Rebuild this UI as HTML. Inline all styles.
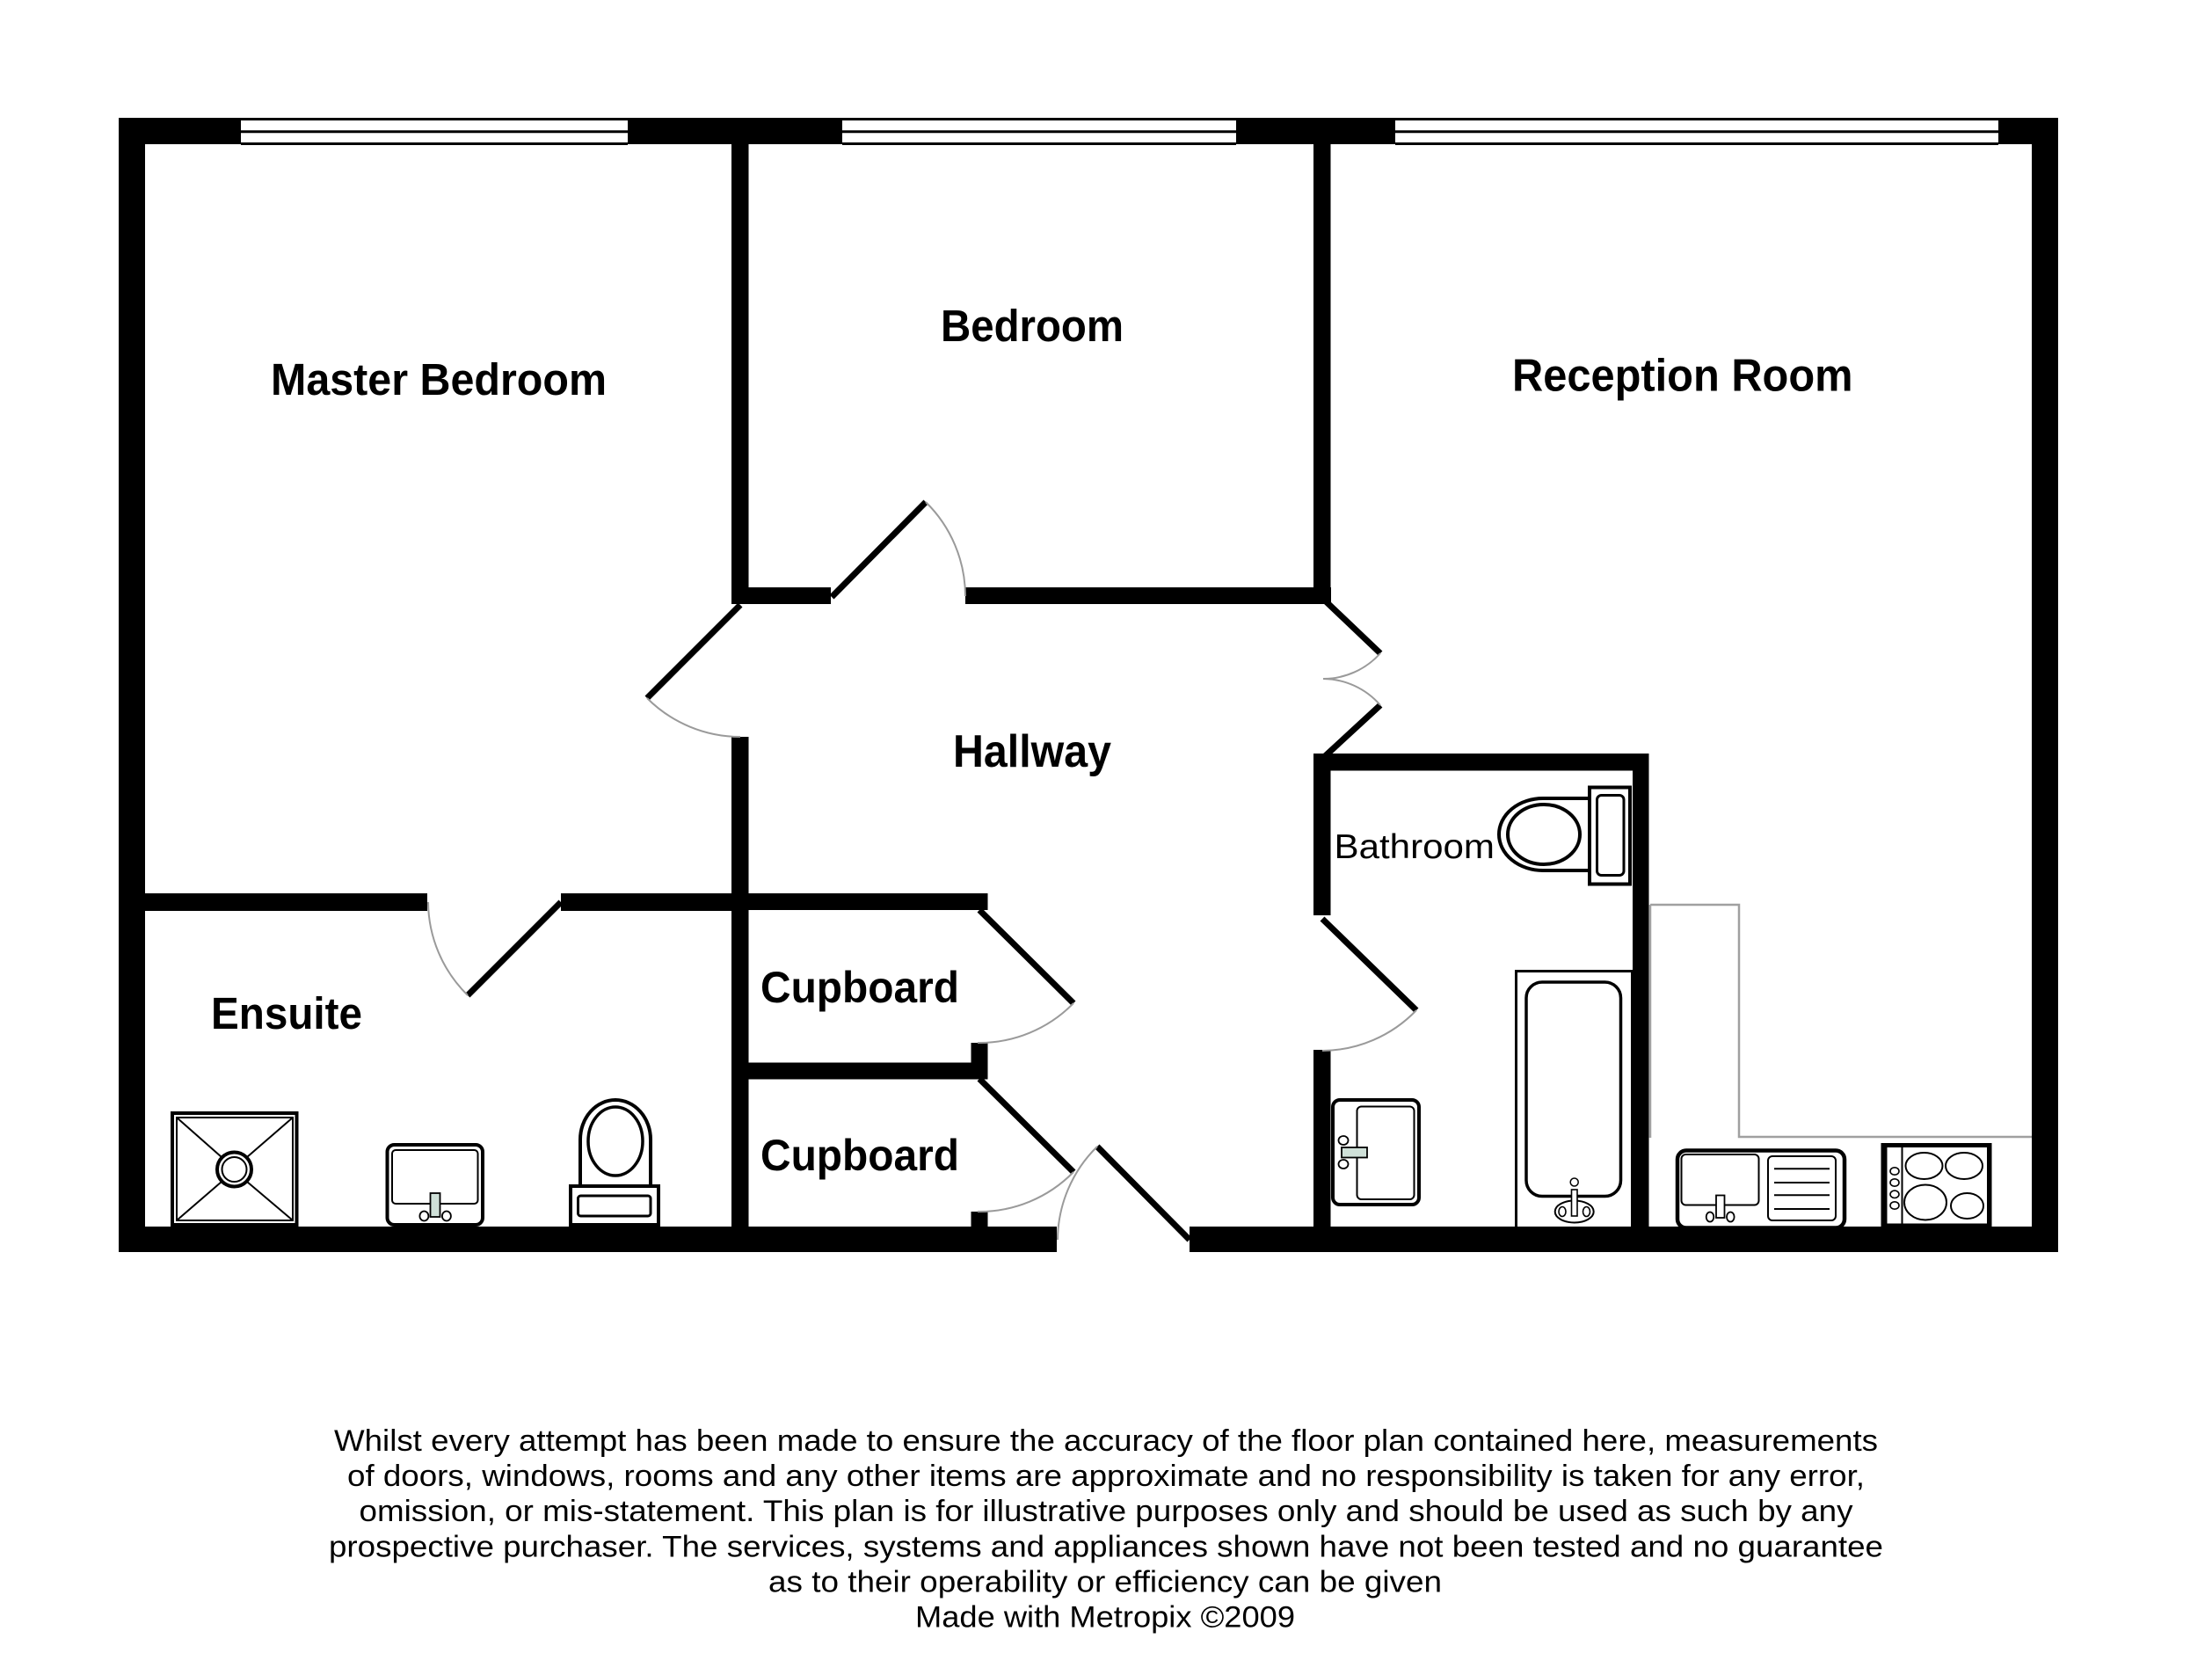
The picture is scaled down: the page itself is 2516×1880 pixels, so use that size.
<!DOCTYPE html>
<html>
<head>
<meta charset="utf-8">
<style>
html,body{margin:0;padding:0;background:#fff;}
svg{display:block;}
</style>
</head>
<body>
<svg width="2516" height="1880" viewBox="0 0 2516 1880" xmlns="http://www.w3.org/2000/svg">
<rect x="0" y="0" width="2516" height="1880" fill="#fff"/>

<!-- Outer walls -->
<g fill="#000">
  <rect x="135" y="134" width="139" height="30"/>
  <rect x="714" y="134" width="244" height="30"/>
  <rect x="1406" y="134" width="181" height="30"/>
  <rect x="2273" y="134" width="68" height="30"/>
  <rect x="135" y="134" width="30" height="1290"/>
  <rect x="2311" y="134" width="30" height="1290"/>
  <rect x="135" y="1395" width="1067" height="29"/>
  <rect x="1353" y="1395" width="988" height="29"/>
</g>

<!-- Windows -->
<g stroke="#000" stroke-width="3" fill="none">
  <line x1="274" y1="135.5" x2="714" y2="135.5"/>
  <line x1="274" y1="149.8" x2="714" y2="149.8"/>
  <line x1="274" y1="163.5" x2="714" y2="163.5"/>
  <line x1="958" y1="135.5" x2="1406" y2="135.5"/>
  <line x1="958" y1="149.8" x2="1406" y2="149.8"/>
  <line x1="958" y1="163.5" x2="1406" y2="163.5"/>
  <line x1="1587" y1="135.5" x2="2273" y2="135.5"/>
  <line x1="1587" y1="149.8" x2="2273" y2="149.8"/>
  <line x1="1587" y1="163.5" x2="2273" y2="163.5"/>
</g>

<!-- Interior walls -->
<g fill="#000">
  <rect x="832" y="160" width="19.5" height="527"/>
  <rect x="832" y="668" width="113" height="19"/>
  <rect x="1098" y="668" width="416" height="19"/>
  <rect x="1494" y="160" width="19.5" height="527"/>
  <rect x="832" y="838" width="19.5" height="560"/>
  <rect x="160" y="1016" width="326" height="20"/>
  <rect x="638" y="1016" width="200" height="20"/>
  <rect x="846" y="1016" width="277.5" height="19"/>
  <rect x="1104.5" y="1186" width="19" height="25"/>
  <rect x="846" y="1208.5" width="277.5" height="19"/>
  <rect x="1104.5" y="1378" width="19" height="20"/>
  <rect x="1494" y="857" width="19.5" height="184"/>
  <rect x="1494" y="1194" width="19.5" height="204"/>
  <rect x="1494" y="857" width="372" height="19.5"/>
  <rect x="1857" y="857" width="18.5" height="541"/>
</g>

<!-- Door leaves -->
<g stroke="#000" stroke-width="7" fill="none" stroke-linecap="butt">
  <line x1="842" y1="688" x2="736" y2="794"/>
  <line x1="946" y1="679" x2="1053" y2="571"/>
  <line x1="638" y1="1026" x2="532" y2="1132"/>
  <line x1="1114" y1="1035" x2="1221" y2="1141"/>
  <line x1="1114" y1="1227" x2="1221" y2="1333"/>
  <line x1="1353" y1="1410" x2="1248" y2="1304"/>
  <line x1="1504" y1="1045" x2="1611" y2="1149"/>
  <line x1="1508" y1="684" x2="1570" y2="743"/>
  <line x1="1506" y1="861" x2="1570" y2="802"/>
</g>

<!-- Door arcs -->
<g stroke="#9a9a9a" stroke-width="2" fill="none">
  <path d="M736,794 A150,150 0 0 0 842,838"/>
  <path d="M1053,571 A150,150 0 0 1 1098,678"/>
  <path d="M532,1132 A150,150 0 0 1 487,1026"/>
  <path d="M1221,1141 A150,150 0 0 1 1112,1186"/>
  <path d="M1221,1333 A150,150 0 0 1 1112,1378"/>
  <path d="M1248,1304 A150,150 0 0 0 1203,1410"/>
  <path d="M1611,1149 A150,150 0 0 1 1504,1195"/>
  <path d="M1570,743 A87,87 0 0 1 1505,772"/>
  <path d="M1570,802 A87,87 0 0 0 1505,772"/>
</g>

<!-- Kitchen worktop outline (gray) -->
<g stroke="#a0a0a0" stroke-width="2.5" fill="none">
  <polyline points="1877,1029 1978,1029 1978,1293 2311,1293"/>
  <line x1="1877" y1="1029" x2="1877" y2="1294"/>
</g>

<!-- Ensuite: shower -->
<g fill="none" stroke="#000">
  <rect x="196" y="1266" width="141.5" height="127" stroke-width="4"/>
  <rect x="201" y="1271" width="132" height="117" stroke-width="2"/>
  <line x1="201" y1="1271" x2="252" y2="1316" stroke-width="2"/>
  <line x1="333" y1="1271" x2="281" y2="1316" stroke-width="2"/>
  <line x1="201" y1="1388" x2="252" y2="1344" stroke-width="2"/>
  <line x1="333" y1="1388" x2="281" y2="1344" stroke-width="2"/>
  <circle cx="266.5" cy="1330" r="19.5" fill="#fff" stroke-width="4"/>
  <circle cx="266.5" cy="1330" r="14" stroke-width="2"/>
</g>

<!-- Ensuite: basin -->
<g fill="none" stroke="#000">
  <rect x="440.5" y="1302" width="108.5" height="91" rx="8" stroke-width="4"/>
  <rect x="446" y="1308" width="97.5" height="61" rx="4" stroke-width="2"/>
  <rect x="489.5" y="1357" width="11" height="27" fill="#cfe0d8" stroke-width="1.8"/>
  <ellipse cx="482.4" cy="1383" rx="5" ry="5.5" fill="#fff" stroke-width="1.8"/>
  <ellipse cx="507.9" cy="1383" rx="5" ry="5.5" fill="#fff" stroke-width="1.8"/>
</g>

<!-- Ensuite: toilet -->
<g fill="none" stroke="#000">
  <path d="M660,1349 L660,1296 A40,45 0 0 1 740,1296 L740,1349" stroke-width="4"/>
  <ellipse cx="700" cy="1298" rx="31" ry="39" stroke-width="3.5"/>
  <rect x="649" y="1349" width="100" height="44" stroke-width="4" fill="#fff"/>
  <rect x="657.5" y="1360" width="82.5" height="23" rx="3" stroke-width="3"/>
</g>

<!-- Bathroom: toilet -->
<g fill="none" stroke="#000">
  <path d="M1807,908 L1755,908 A50,41 0 0 0 1755,990 L1807,990" stroke-width="4"/>
  <ellipse cx="1756" cy="949" rx="41" ry="34" stroke-width="4"/>
  <rect x="1808" y="895.5" width="46" height="110" stroke-width="4" fill="#fff"/>
  <rect x="1816.5" y="904.5" width="30.5" height="91" rx="5" stroke-width="3"/>
</g>

<!-- Bathroom: bath -->
<g fill="none" stroke="#000">
  <rect x="1724.5" y="1104.5" width="132" height="292" stroke-width="3"/>
  <rect x="1736" y="1117" width="107.5" height="243.5" rx="18" stroke-width="3.5"/>
  <circle cx="1790.7" cy="1344.5" r="4.5" stroke-width="1.5" fill="#fff"/>
  <ellipse cx="1790.7" cy="1378" rx="22" ry="12.5" stroke-width="2"/>
  <ellipse cx="1777" cy="1378" rx="4" ry="5.5" stroke-width="1.6"/>
  <ellipse cx="1804.5" cy="1378" rx="4" ry="5.5" stroke-width="1.6"/>
  <rect x="1787.5" y="1353" width="6.5" height="30" fill="#fff" stroke-width="1.6"/>
</g>

<!-- Bathroom: basin -->
<g fill="none" stroke="#000">
  <rect x="1516" y="1251" width="98" height="119" rx="8" stroke-width="4"/>
  <rect x="1543.5" y="1258.5" width="65" height="105.5" rx="5" stroke-width="2"/>
  <rect x="1526" y="1305" width="29" height="11.5" fill="#cfe0d8" stroke-width="1.8"/>
  <ellipse cx="1528" cy="1297" rx="5.5" ry="5" fill="#fff" stroke-width="1.8"/>
  <ellipse cx="1528" cy="1324" rx="5.5" ry="5" fill="#fff" stroke-width="1.8"/>
</g>

<!-- Kitchen sink -->
<g fill="none" stroke="#000">
  <rect x="1908" y="1308.5" width="190" height="88" rx="10" stroke-width="4.5"/>
  <rect x="1912.5" y="1313" width="88" height="57.5" rx="5" stroke-width="2"/>
  <rect x="2011" y="1315" width="77" height="73" rx="5" stroke-width="2"/>
  <line x1="2018" y1="1329.3" x2="2081" y2="1329.3" stroke-width="2"/>
  <line x1="2018" y1="1345" x2="2081" y2="1345" stroke-width="2"/>
  <line x1="2018" y1="1359.3" x2="2081" y2="1359.3" stroke-width="2"/>
  <line x1="2018" y1="1375" x2="2081" y2="1375" stroke-width="2"/>
  <rect x="1952" y="1359.5" width="9.5" height="25.5" fill="#fff" stroke-width="1.8"/>
  <ellipse cx="1945" cy="1384" rx="4.3" ry="5.5" fill="#fff" stroke-width="1.8"/>
  <ellipse cx="1968.3" cy="1384" rx="4.3" ry="5.5" fill="#fff" stroke-width="1.8"/>
</g>

<!-- Hob -->
<rect x="2139.5" y="1300" width="126" height="95" fill="#000"/>
<rect x="2146.5" y="1305" width="113.5" height="86.5" fill="#fff"/>
<g fill="none" stroke="#000">
  <line x1="2163.5" y1="1305" x2="2163.5" y2="1392" stroke-width="2"/>
  <ellipse cx="2155" cy="1332" rx="5" ry="4.2" stroke-width="1.6"/>
  <ellipse cx="2155" cy="1345" rx="5" ry="4.2" stroke-width="1.6"/>
  <ellipse cx="2155" cy="1358.3" rx="5" ry="4.2" stroke-width="1.6"/>
  <ellipse cx="2155" cy="1371" rx="5" ry="4.2" stroke-width="1.6"/>
  <ellipse cx="2188.5" cy="1326" rx="21" ry="15" stroke-width="2"/>
  <ellipse cx="2234" cy="1326" rx="21" ry="15" stroke-width="2"/>
  <ellipse cx="2190" cy="1367.5" rx="24" ry="20" stroke-width="2"/>
  <ellipse cx="2237.5" cy="1371.5" rx="18.5" ry="14.5" stroke-width="2"/>
</g>

<!-- Room labels -->
<g font-family="'Liberation Sans', Arial, sans-serif" font-weight="bold" font-size="51" fill="#000">
  <text x="308" y="449" textLength="382" lengthAdjust="spacingAndGlyphs">Master Bedroom</text>
  <text x="1070" y="388" textLength="208" lengthAdjust="spacingAndGlyphs">Bedroom</text>
  <text x="1720" y="444.6" font-size="52" textLength="387.5" lengthAdjust="spacingAndGlyphs">Reception Room</text>
  <text x="1084" y="872" font-size="52" textLength="180" lengthAdjust="spacingAndGlyphs">Hallway</text>
  <text x="865" y="1140" font-size="50" textLength="226" lengthAdjust="spacingAndGlyphs">Cupboard</text>
  <text x="865" y="1331" font-size="50" textLength="226" lengthAdjust="spacingAndGlyphs">Cupboard</text>
  <text x="240" y="1170" textLength="172" lengthAdjust="spacingAndGlyphs">Ensuite</text>
</g>
<text x="1517.5" y="976" font-family="'Liberation Sans', Arial, sans-serif" font-size="39" fill="#000" textLength="182.5" lengthAdjust="spacingAndGlyphs">Bathroom</text>

<!-- Footer disclaimer -->
<g font-family="'Liberation Sans', Arial, sans-serif" font-size="34" fill="#000" text-anchor="middle">
  <text x="1258" y="1650" textLength="1756" lengthAdjust="spacingAndGlyphs">Whilst every attempt has been made to ensure the accuracy of the floor plan contained here, measurements</text>
  <text x="1258" y="1690" textLength="1726" lengthAdjust="spacingAndGlyphs">of doors, windows, rooms and any other items are approximate and no responsibility is taken for any error,</text>
  <text x="1258" y="1730" textLength="1699" lengthAdjust="spacingAndGlyphs">omission, or mis-statement. This plan is for illustrative purposes only and should be used as such by any</text>
  <text x="1258" y="1770.5" textLength="1768" lengthAdjust="spacingAndGlyphs">prospective purchaser. The services, systems and appliances shown have not been tested and no guarantee</text>
  <text x="1257" y="1810.5" textLength="766" lengthAdjust="spacingAndGlyphs">as to their operability or efficiency can be given</text>
  <text x="1257" y="1850.5" textLength="432" lengthAdjust="spacingAndGlyphs">Made with Metropix ©2009</text>
</g>
</svg>
</body>
</html>
